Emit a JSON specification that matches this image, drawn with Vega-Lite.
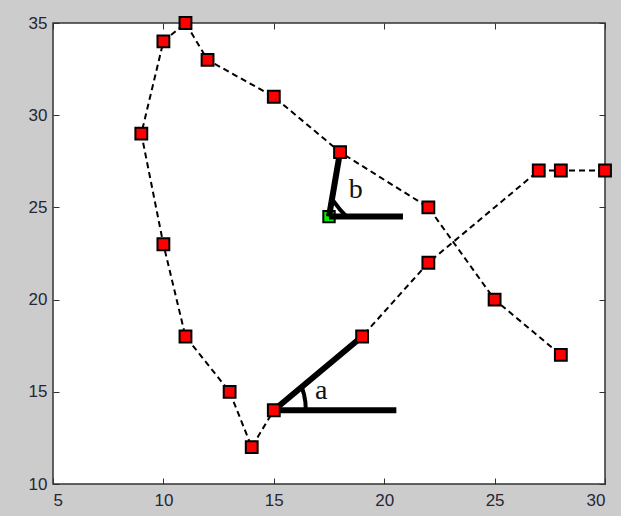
{
  "$schema": "https://vega.github.io/schema/vega-lite/v6.json",
  "width": 552,
  "height": 461,
  "autosize": "none",
  "padding": {"left": 53, "top": 23, "right": 16, "bottom": 32},
  "background": "#cccccc",
  "config": {
    "view": {"stroke": "#333333", "strokeWidth": 1.5, "fill": "white"},
    "axis": {
      "domain": false,
      "grid": false,
      "tickColor": "#333333",
      "tickSize": -6,
      "tickWidth": 1,
      "labelFont": "Liberation Sans",
      "labelFontSize": 17,
      "labelColor": "#262636",
      "title": null
    }
  },
  "datasets": {
    "path": [
      {"i": 1, "x": 30, "y": 27},
      {"i": 2, "x": 28, "y": 27},
      {"i": 3, "x": 27, "y": 27},
      {"i": 4, "x": 22, "y": 22},
      {"i": 5, "x": 19, "y": 18},
      {"i": 6, "x": 15, "y": 14},
      {"i": 7, "x": 14, "y": 12},
      {"i": 8, "x": 13, "y": 15},
      {"i": 9, "x": 11, "y": 18},
      {"i": 10, "x": 10, "y": 23},
      {"i": 11, "x": 9, "y": 29},
      {"i": 12, "x": 10, "y": 34},
      {"i": 13, "x": 11, "y": 35},
      {"i": 14, "x": 12, "y": 33},
      {"i": 15, "x": 15, "y": 31},
      {"i": 16, "x": 18, "y": 28},
      {"i": 17, "x": 22, "y": 25},
      {"i": 18, "x": 25, "y": 20},
      {"i": 19, "x": 28, "y": 17}
    ],
    "segments": [
      {"x": 15, "y": 14, "x2": 19, "y2": 18},
      {"x": 15, "y": 14, "x2": 20.55, "y2": 14},
      {"x": 17.5, "y": 24.5, "x2": 18, "y2": 28},
      {"x": 17.5, "y": 24.5, "x2": 20.85, "y2": 24.5}
    ],
    "arcs": [
      {"arc": "a", "i": 1, "x": 16.45, "y": 14},
      {"arc": "a", "i": 2, "x": 16.43, "y": 14.45},
      {"arc": "a", "i": 3, "x": 16.37, "y": 14.85},
      {"arc": "a", "i": 4, "x": 16.27, "y": 15.25},
      {"arc": "b", "i": 1, "x": 18.3, "y": 24.5},
      {"arc": "b", "i": 2, "x": 18.02, "y": 24.85},
      {"arc": "b", "i": 3, "x": 17.7, "y": 25.35}
    ],
    "green": [{"x": 17.5, "y": 24.5}],
    "labels": [
      {"x": 17.15, "y": 15.05, "t": "a"},
      {"x": 18.71, "y": 25.93, "t": "b"}
    ]
  },
  "resolve": {"axis": {"x": "independent", "y": "independent"}},
  "layer": [
    {
      "data": {"name": "path"},
      "mark": {"type": "line", "color": "black", "strokeWidth": 2, "strokeDash": [6, 4]},
      "encoding": {
        "x": {"field": "x", "type": "quantitative", "scale": {"domain": [5, 30], "nice": false, "zero": false},
              "axis": {"orient": "bottom", "values": [5, 10, 15, 20, 25, 30], "labelPadding": 14}},
        "y": {"field": "y", "type": "quantitative", "scale": {"domain": [10, 35], "nice": false, "zero": false},
              "axis": {"orient": "left", "values": [10, 15, 20, 25, 30, 35], "labelPadding": 12}},
        "order": {"field": "i"}
      }
    },
    {
      "data": {"name": "green"},
      "mark": {"type": "point", "shape": "square", "filled": true, "size": 130, "color": "#00ee00", "stroke": "black", "strokeWidth": 2, "opacity": 1},
      "encoding": {
        "x": {"field": "x", "type": "quantitative", "axis": {"orient": "top", "values": [5, 10, 15, 20, 25, 30], "labels": false}},
        "y": {"field": "y", "type": "quantitative", "axis": {"orient": "right", "values": [10, 15, 20, 25, 30, 35], "labels": false}}
      }
    },
    {
      "data": {"name": "segments"},
      "mark": {"type": "rule", "color": "black", "strokeWidth": 6, "strokeCap": "butt"},
      "encoding": {
        "x": {"field": "x", "type": "quantitative", "axis": null},
        "y": {"field": "y", "type": "quantitative", "axis": null},
        "x2": {"field": "x2"},
        "y2": {"field": "y2"}
      }
    },
    {
      "data": {"name": "arcs"},
      "mark": {"type": "line", "color": "black", "strokeWidth": 4},
      "encoding": {
        "x": {"field": "x", "type": "quantitative", "axis": null},
        "y": {"field": "y", "type": "quantitative", "axis": null},
        "detail": {"field": "arc"},
        "order": {"field": "i"}
      }
    },
    {
      "data": {"name": "path"},
      "mark": {"type": "point", "shape": "square", "filled": true, "size": 140, "color": "#ff0000", "stroke": "black", "strokeWidth": 2, "opacity": 1},
      "encoding": {
        "x": {"field": "x", "type": "quantitative", "axis": null},
        "y": {"field": "y", "type": "quantitative", "axis": null}
      }
    },
    {
      "data": {"name": "labels"},
      "mark": {"type": "text", "font": "Liberation Serif", "fontSize": 28, "color": "#111111", "align": "center", "baseline": "middle"},
      "encoding": {
        "x": {"field": "x", "type": "quantitative", "axis": null},
        "y": {"field": "y", "type": "quantitative", "axis": null},
        "text": {"field": "t"}
      }
    }
  ]
}
